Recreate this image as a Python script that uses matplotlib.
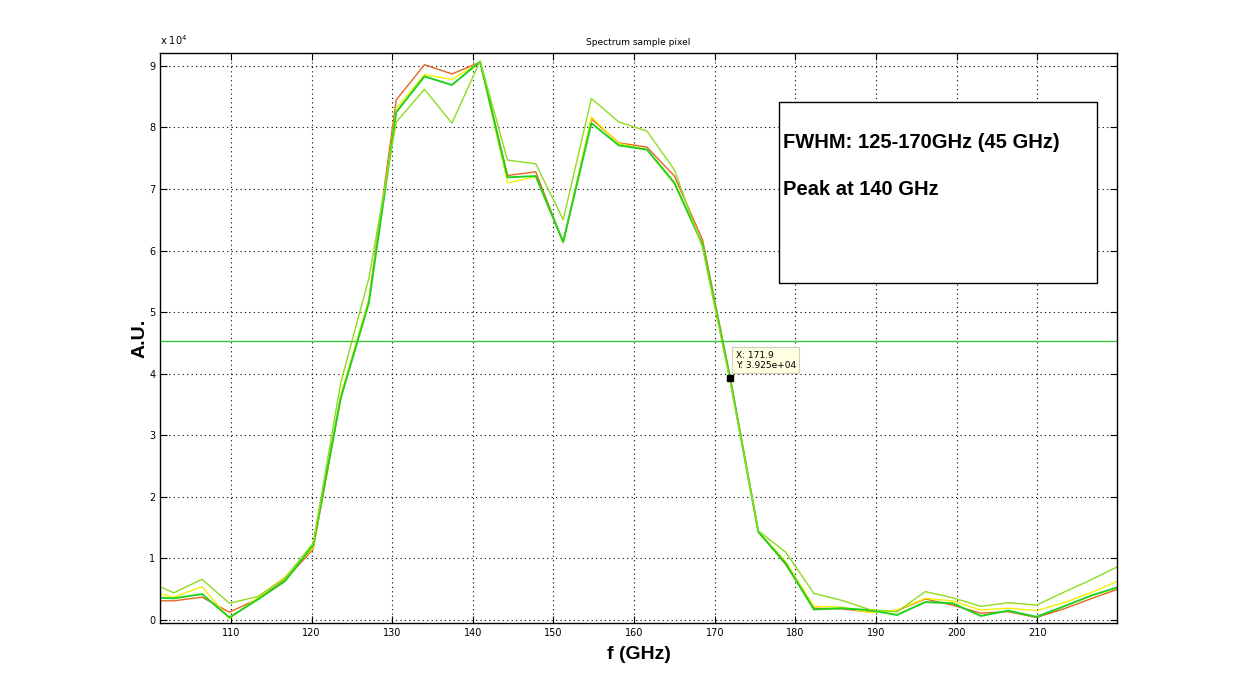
import matplotlib
matplotlib.use("Agg")
import matplotlib.pyplot as plt

# frequency points (GHz) and spectra of 4 sample pixels (in units of 1e4 A.U.)
freq = [99.5, 102.9, 106.4, 109.8, 113.3, 116.7, 120.2, 123.6, 127.1, 130.5,
        134.0, 137.4, 140.9, 144.3, 147.8, 151.2, 154.7, 158.1, 161.6, 165.0,
        168.5, 171.9, 175.4, 178.8, 182.3, 185.7, 189.2, 192.6, 196.1, 199.5,
        203.0, 206.4, 209.9, 213.3, 216.8, 220.2]

orange = [0.31, 0.31, 0.37, 0.125, 0.34, 0.65, 1.15, 3.6, 5.2, 8.45,
          9.02, 8.87, 9.06, 7.22, 7.28, 6.13, 8.14, 7.75, 7.68, 7.21,
          6.17, 3.95, 1.44, 0.90, 0.19, 0.18, 0.13, 0.15, 0.34, 0.24,
          0.11, 0.135, 0.04, 0.18, 0.35, 0.51]
yellow = [0.47, 0.37, 0.54, 0.02, 0.36, 0.70, 1.17, 3.65, 5.2, 8.31,
          8.86, 8.78, 9.06, 7.10, 7.20, 6.13, 8.17, 7.74, 7.64, 7.08,
          6.10, 3.92, 1.44, 0.95, 0.22, 0.21, 0.12, 0.16, 0.35, 0.31,
          0.16, 0.19, 0.15, 0.28, 0.45, 0.64]
green = [0.37, 0.35, 0.42, 0.04, 0.33, 0.63, 1.22, 3.6, 5.15, 8.25,
         8.83, 8.69, 9.07, 7.19, 7.21, 6.14, 8.07, 7.71, 7.64, 7.10,
         6.09, 3.925, 1.43, 0.92, 0.17, 0.19, 0.16, 0.08, 0.29, 0.27,
         0.065, 0.15, 0.05, 0.22, 0.40, 0.54]
lightgreen = [0.64, 0.44, 0.66, 0.27, 0.38, 0.68, 1.25, 3.85, 5.55, 8.09,
              8.62, 8.07, 9.08, 7.47, 7.41, 6.50, 8.47, 8.09, 7.94, 7.31,
              6.04, 3.88, 1.45, 1.10, 0.43, 0.32, 0.17, 0.13, 0.46, 0.36,
              0.22, 0.28, 0.24, 0.45, 0.66, 0.88]

half_max = 4.53
tip_x, tip_y = 171.9, 3.925

fig = plt.figure(figsize=(12.35, 7), dpi=100)
ax = fig.add_axes([0.1296, 0.11, 0.7749, 0.8143])

ax.plot(freq, orange, color="#e8641e", lw=1)
ax.plot(freq, yellow, color="#f2f200", lw=1)
ax.plot(freq, green, color="#1ed21e", lw=1.4)
ax.plot(freq, lightgreen, color="#8fdc1e", lw=1)
ax.axhline(half_max, color="#3cc83c", lw=1)

ax.set_xlim(101.2, 219.9)
ax.set_ylim(-0.05, 9.21)
ax.set_xticks(range(110, 220, 10))
ax.set_yticks(range(0, 10))
ax.tick_params(direction="in", top=True, right=True, labelsize=7, length=5)
ax.grid(True, color="black", linestyle=(0, (1, 3)), lw=0.8)
for s in ax.spines.values():
    s.set_linewidth(1)

ax.set_title("Spectrum sample pixel", fontsize=6.5, pad=6)
ax.set_xlabel("f (GHz)", fontsize=14, fontweight="bold", family="Liberation Sans", labelpad=6)
ax.set_ylabel("A.U.", fontsize=14, fontweight="bold", family="Liberation Sans", labelpad=0)
ax.text(0.0, 1.01, r"x 10$^{4}$", transform=ax.transAxes, fontsize=7, va="bottom")

# data tip
ax.plot(tip_x, tip_y, "s", color="black", ms=5)
ax.annotate("X: 171.9\nY: 3.925e+04", (tip_x, tip_y), xytext=(4, 6),
            textcoords="offset points", fontsize=6.5, va="bottom", ha="left",
            bbox=dict(boxstyle="square,pad=0.35", fc="#ffffe1", ec="#d0d0c0", lw=0.8))

# FWHM box
fig.patches.append(plt.Rectangle((779 / 1235, 1 - 283 / 700), 318 / 1235, 181 / 700,
                                 transform=fig.transFigure, fc="white", ec="black", lw=1))
fig.text(783 / 1235, 1 - 143 / 700, "FWHM: 125-170GHz (45 GHz)", fontsize=14.5,
         fontweight="bold", family="Liberation Sans", va="center")
fig.text(783 / 1235, 1 - 190 / 700, "Peak at 140 GHz", fontsize=14.5,
         fontweight="bold", family="Liberation Sans", va="center")

fig.savefig("out.png", dpi=100)
